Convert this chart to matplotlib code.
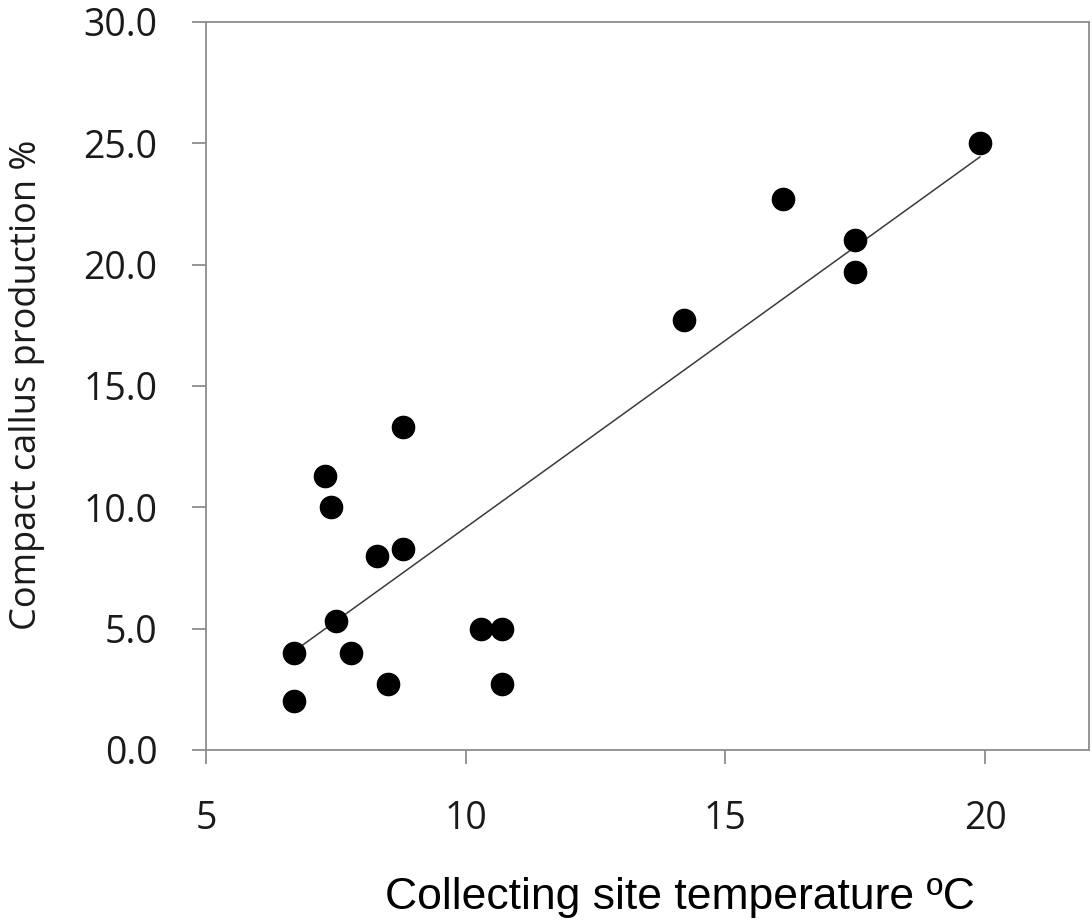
import numpy as np
import matplotlib.pyplot as plt

# температура места сбора, °C
temp = [6.7, 6.7, 7.3, 7.4, 7.5, 7.8, 8.3, 8.5, 8.8, 8.8,
        10.3, 10.7, 10.7, 14.2, 16.1, 17.5, 17.5, 19.9]
# выход компактного каллуса, %
callus = [4.0, 2.0, 11.3, 10.0, 5.3, 4.0, 8.0, 2.7, 13.3, 8.3,
          5.0, 5.0, 2.7, 17.7, 22.7, 21.0, 19.7, 25.0]

x_ticks = [5, 10, 15, 20]
y_ticks = [0, 5, 10, 15, 20, 25, 30]

fig = plt.figure(figsize=(10.92, 9.23), dpi=100)
ax = fig.add_axes([206 / 1092, 173 / 923, 883 / 1092, 728 / 923])

x = np.array(temp)
y = np.array(callus)

# линейный тренд
k, b = np.polyfit(x, y, 1)
xs = np.array([x.min(), x.max()])
ax.plot(xs, k * xs + b, color='#3a3a3a', lw=1.1, zorder=2)

ax.plot(x, y, 'o', color='black', ms=16, mec='black', zorder=3)

ax.set_xlim(5, 22)
ax.set_ylim(0, 30)
ax.set_xticks(x_ticks)
ax.set_yticks(y_ticks)
ax.set_yticklabels([f'{v:.1f}' for v in y_ticks])

for s in ax.spines.values():
    s.set_color('#8c8c8c')
    s.set_linewidth(1.3)

ax.tick_params(direction='out', length=10, width=1.3, color='#8c8c8c',
               labelsize=27, labelcolor='#1a1a1a')
ax.tick_params(axis='x', pad=26)
ax.tick_params(axis='y', pad=25)
for lab in ax.get_xticklabels() + ax.get_yticklabels():
    lab.set_family('Open Sans')

ax.set_xlabel('Collecting site temperature ºC', family='Liberation Sans',
              fontsize=32, va='center', color='black')
ax.xaxis.set_label_coords(0.537, -0.203)
ax.set_ylabel('Compact callus production %', family='Open Sans',
              fontsize=26, va='center', color='#1a1a1a')
ax.yaxis.set_label_coords(-0.203, 0.501)

fig.savefig('out.png', dpi=100)
